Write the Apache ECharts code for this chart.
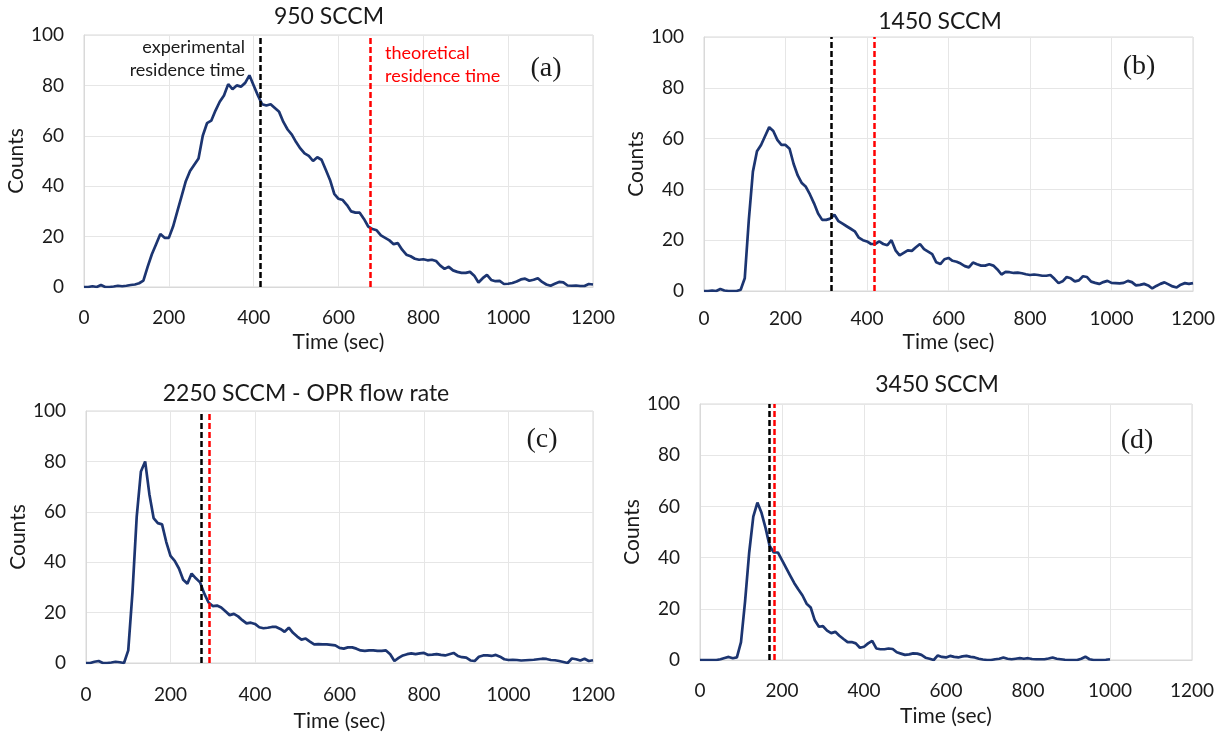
<!DOCTYPE html>
<html>
<head>
<meta charset="utf-8">
<script src="https://cdn.jsdelivr.net/npm/echarts@6/dist/echarts.min.js"></script>
<style>
html,body{margin:0;padding:0;background:#fff;}
#chart{width:1225px;height:736px;}
</style>
</head>
<body>
<div id="chart"></div>
<script>
// ---- Data (sampled every 10 s) ----
const TIME_STEP = 10;
const panelTitles = ['950 SCCM', '1450 SCCM', '2250 SCCM - OPR flow rate', '3450 SCCM'];
const panelLetters = ['(a)', '(b)', '(c)', '(d)'];
const expResidence = [415, 312, 272, 170];
const theoResidence = [674, 418, 291, 180];
const xTickMax = 1200, xTickStep = 200;
const yTickMax = 100, yTickStep = 20;

const countsA = [
 0,0,0.3,0,0.8,0,0,0.2,0.5,0.3,
 0.5,0.8,1,1.5,2.5,8,13,17,21,19.5,
 19.5,24,30,36,42,46,48.5,51,60,65,
 66,70,73.5,76,80.5,78.5,80,79.5,81,84,
 80,76,72.5,72,72.5,71,69.5,65.5,62.5,60.5,
 57.5,55,53,52,50,51.5,50.5,46.5,42.5,37,
 35,34.5,32.5,30,29.5,29.5,27,24,23,22.5,
 20.5,19.5,18.5,17,17.4,14.8,12.8,12.2,11.2,10.8,
 11,10.6,10.8,10.3,8.5,7.2,8,6.6,6,5.6,
 5.6,6,4.5,1.8,3.5,4.8,2.8,2.3,2.4,1.2,
 1.3,1.6,2.2,3,3.3,2.5,2.9,3.5,2,1,
 0.5,1.3,2,1.8,0.6,0.5,0.6,0.4,0.4,1.2,
 1
];
const countsB = [
 0,0,0.2,0,0.8,0.2,0,0,0,0.5,
 5,28,47,55,57.5,61,64.5,63,59.5,57.5,
 57.5,56,50,45.5,42.5,41,38,34.5,30.5,28,
 28,28.5,30,27.5,26.5,25.5,24.5,23.5,21,20,
 19.5,18.5,18.5,19.5,18.5,18,20,16,14,15,
 16,15.8,17.2,18.5,16.5,15.5,14.5,11.3,10.6,12.5,
 13,11.9,11.5,10.8,9.8,9.3,11.2,10.5,10,10,
 10.5,10,8.5,6.5,7.5,7.4,7.1,7.2,7,6.6,
 6.3,6.5,6.3,6,6,6.3,4.8,3.1,3.8,5.5,
 5,3.8,4.2,5.8,5.5,3.7,3.2,2.8,3.5,4,
 3.2,3.1,3,3.2,4,3.5,2.2,2.4,2.8,2.2,
 1,2,2.8,3.4,2.6,1.8,1.4,2.5,3.1,2.8,
 3.1
];
const countsC = [
 0,0,0.5,0.8,0,0,0.2,0.5,0.3,0,
 5,28,58,76,80,67,57.5,55.5,55,48,
 42.5,40.5,37.5,33,31.5,35.5,33.6,32,27.5,24,
 22.6,22.8,22,20.5,19,19.5,18.5,17,15.7,16,
 15.5,14.2,13.8,14,14.3,14.3,13.5,12.4,14,12,
 10.5,9.3,9.7,8.5,7.4,7.5,7.4,7.4,7.2,7,
 6,5.7,6.2,6.2,5.7,5,4.8,5,5,4.8,
 4.8,5,3.5,0.8,2,3,3.5,3.8,3.5,3.8,
 4,3.2,3.3,3.5,3.2,3,3.5,4,2.8,2.3,
 2.1,1,0.8,2.5,3,3,2.8,3.2,2.5,1.5,
 1.2,1.3,1.2,1,1.1,1.2,1.3,1.5,1.7,1.6,
 1.2,1.1,0.8,0.4,0,1.8,1.5,1,1.7,0.8,
 1.1
];
const countsD = [
 0,0,0,0,0,0.3,0.8,1.2,0.7,1,
 7,23,42,56,61.5,57.5,51.5,44.5,42,42,
 39,36,33,30,27.5,25.2,22,20.5,15.5,13,
 13.2,11.5,10.5,11,9.5,8.2,7,7,6.5,4.8,
 5.2,6.5,7.5,4.5,4.2,4.2,4.5,4.3,3,2.5,
 2,2.2,2.6,2.5,2,0.9,0.5,0,1.8,1.2,
 1,1.6,1.2,1,1.4,1.6,1.2,1,0.5,0.2,
 0,0,0.3,0.5,1,0.5,0.3,0.5,0.7,0.5,
 0.7,0.4,0.3,0.3,0.3,0.6,1,0.5,0.3,0.1,
 0,0,0,0.5,1.3,0.3,0,0,0,0.1,
 0.3
];
const allCounts = [countsA, countsB, countsC, countsD];

// ---- Layout ----
const grids = [
  {left: 84, top: 35, width: 509, height: 252},
  {left: 704, top: 37, width: 489, height: 254},
  {left: 86, top: 411, width: 507, height: 252},
  {left: 700, top: 404, width: 492, height: 256}
];
const xNameGap = [45, 41, 48, 46];
const yNameGap = [54, 52, 55, 50];
const xLabelMargin = [21, 18, 22, 21];
const titlePos = [[329, 17], [940, 22], [306, 394], [937, 385]];
const letterPos = [[546, 69], [1139, 67], [542, 440], [1137, 441]];

const FONT = 'Lato, "Open Sans", sans-serif';
const TEXT = '#1a1a1a';
const GRIDC = '#d9d9d9';
const LINEC = '#1c3571';

function toPairs(arr) { return arr.map((v, i) => [i * TIME_STEP, v]); }

const option = {
  animation: false,
  backgroundColor: '#fff',
  grid: grids.map(g => Object.assign({show: true, borderColor: GRIDC, borderWidth: 1, backgroundColor: '#fff'}, g)),
  xAxis: grids.map((g, i) => ({
    type: 'value', gridIndex: i, min: 0, max: xTickMax, interval: xTickStep,
    name: 'Time (sec)', nameLocation: 'middle', nameGap: xNameGap[i],
    nameTextStyle: {fontFamily: FONT, fontSize: 21, color: TEXT},
    axisLine: {show: true, lineStyle: {color: GRIDC, width: 1}},
    axisTick: {show: false},
    axisLabel: {fontFamily: FONT, fontSize: 19, color: TEXT, margin: xLabelMargin[i], formatter: v => String(v)},
    splitLine: {show: true, lineStyle: {color: '#e6e6e6', width: 1}}
  })),
  yAxis: grids.map((g, i) => ({
    type: 'value', gridIndex: i, min: 0, max: yTickMax, interval: yTickStep,
    name: 'Counts', nameLocation: 'middle', nameGap: yNameGap[i], nameRotate: 90,
    nameTextStyle: {fontFamily: FONT, fontSize: 21, color: TEXT},
    axisLine: {show: true, lineStyle: {color: GRIDC, width: 1}},
    axisTick: {show: false},
    axisLabel: {fontFamily: FONT, fontSize: 19, color: TEXT, margin: 20, formatter: v => String(v)},
    splitLine: {show: true, lineStyle: {color: '#e6e6e6', width: 1}}
  })),
  series: allCounts.map((arr, i) => ({
    type: 'line', xAxisIndex: i, yAxisIndex: i,
    data: toPairs(arr), showSymbol: false, symbol: 'none',
    lineStyle: {color: LINEC, width: 2.7}, z: 3,
    markLine: {
      silent: true, symbol: ['none', 'none'], label: {show: false}, z: 4,
      data: [
        {xAxis: expResidence[i], lineStyle: {color: '#000', type: [6, 3], width: 2.5}},
        {xAxis: theoResidence[i], lineStyle: {color: '#ff0000', type: [6, 3], width: 2.5}}
      ]
    }
  })),
  graphic: [].concat(
    panelTitles.map((t, i) => ({
      type: 'text', x: titlePos[i][0], y: titlePos[i][1], z: 10,
      style: {text: t, font: '23px ' + FONT, fill: TEXT, align: 'center', verticalAlign: 'middle'}
    })),
    panelLetters.map((t, i) => ({
      type: 'text', x: letterPos[i][0], y: letterPos[i][1], z: 10,
      style: {text: t, font: '28px "Liberation Serif", "Times New Roman", serif', fill: TEXT, align: 'center', verticalAlign: 'middle'}
    })),
    [
      {type: 'text', x: 245, y: 47, z: 10, style: {text: 'experimental', font: '18px ' + FONT, fill: TEXT, align: 'right', verticalAlign: 'middle'}},
      {type: 'text', x: 245, y: 70, z: 10, style: {text: 'residence time', font: '18px ' + FONT, fill: TEXT, align: 'right', verticalAlign: 'middle'}},
      {type: 'text', x: 385, y: 53, z: 10, style: {text: 'theoretical', font: '18px ' + FONT, fill: '#ff0000', align: 'left', verticalAlign: 'middle'}},
      {type: 'text', x: 385, y: 76, z: 10, style: {text: 'residence time', font: '18px ' + FONT, fill: '#ff0000', align: 'left', verticalAlign: 'middle'}}
    ]
  )
};

const chart = echarts.init(document.getElementById('chart'), null, {renderer: 'canvas'});
chart.setOption(option);
</script>
</body>
</html>
